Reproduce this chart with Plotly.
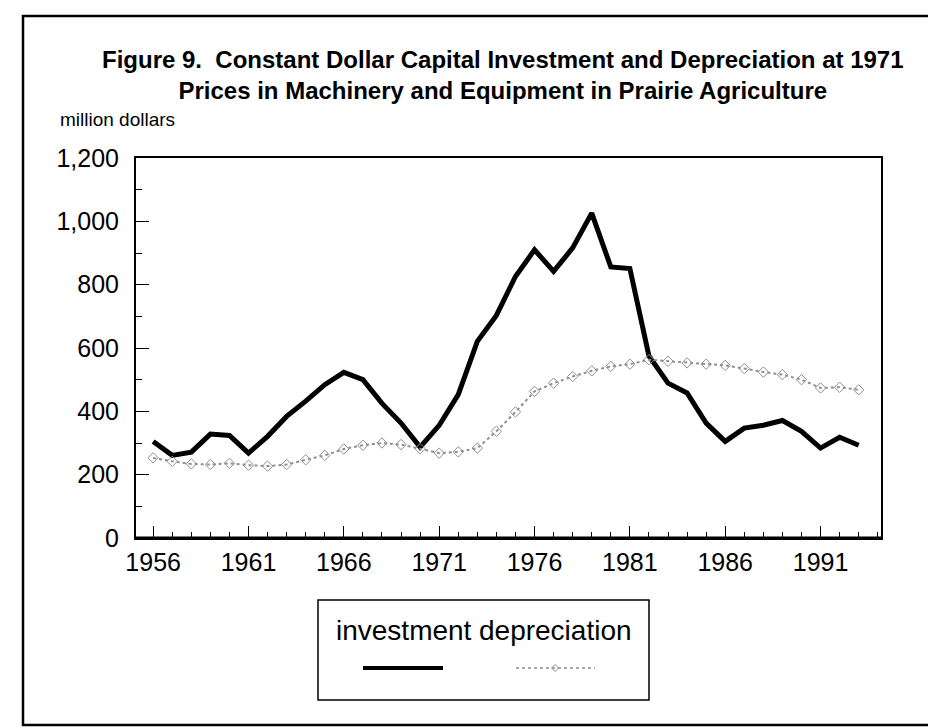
import plotly.graph_objects as go

years = list(range(1956, 1994))
investment = [305, 261, 271, 328, 324, 268, 321, 384, 432, 484, 523, 500,
              425, 363, 287, 356, 453, 621, 703, 826, 910, 842, 916, 1026,
              856, 851, 575, 489, 458, 363, 305, 347, 356, 371, 337, 284,
              318, 293]
depreciation = [253, 242, 234, 232, 236, 230, 227, 232, 247, 261, 281, 293,
                300, 295, 282, 268, 272, 284, 337, 398, 463, 489, 510, 528,
                542, 549, 563, 558, 553, 549, 545, 535, 524, 516, 500, 474,
                476, 468]
x_tickvals = [1956, 1961, 1966, 1971, 1976, 1981, 1986, 1991]
y_tickvals = [0, 200, 400, 600, 800, 1000, 1200]

W, H = 936, 728
L, R, T, B = 128, 873, 150, 530
FONT = "Liberation Sans, Arial, Helvetica, sans-serif"
GRAY = "#8f8f8f"


def px(x):
    return (x - L) / (R - L)


def py(y):
    return (B - y) / (B - T)


fig = go.Figure()
fig.add_trace(go.Scatter(
    x=years, y=investment, name="investment", mode="lines",
    line=dict(color="black", width=5), showlegend=False))
fig.add_trace(go.Scatter(
    x=years, y=depreciation, name="depreciation", mode="lines+markers",
    line=dict(color=GRAY, width=2, dash="dot"),
    marker=dict(symbol="diamond-open", size=8, color=GRAY,
                line=dict(width=1, color=GRAY)),
    showlegend=False))

shapes = [
    # outer frame
    dict(type="rect", xref="paper", yref="paper", x0=px(15), x1=px(930),
         y0=py(717), y1=py(8), line=dict(color="black", width=2.5)),
    # legend box
    dict(type="rect", xref="paper", yref="paper", x0=px(310), x1=px(641),
         y0=py(692), y1=py(592), line=dict(color="black", width=1.5)),
    # legend samples
    dict(type="line", xref="paper", yref="paper", x0=px(355), x1=px(435),
         y0=py(660), y1=py(660), line=dict(color="black", width=4)),
    dict(type="line", xref="paper", yref="paper", x0=px(508), x1=px(587),
         y0=py(660), y1=py(660), line=dict(color=GRAY, width=1.5, dash="dot")),
    dict(type="path", xref="paper", yref="paper",
         path=f"M {px(543.5)} {py(660)} L {px(547)} {py(656.5)} L {px(550.5)} {py(660)} L {px(547)} {py(663.5)} Z",
         line=dict(color=GRAY, width=1)),
    # thicker bottom axis
    dict(type="line", xref="paper", yref="paper", x0=0, x1=1, y0=0, y1=0,
         line=dict(color="black", width=3)),
]

annotations = [
    dict(xref="paper", yref="paper", x=px(495), y=py(67), xanchor="center",
         yanchor="middle", showarrow=False, align="center",
         text="<b>Figure 9.  Constant Dollar Capital Investment and Depreciation at 1971</b><br>"
              "<b>Prices in Machinery and Equipment in Prairie Agriculture</b>",
         font=dict(family=FONT, size=24, color="black")),
    dict(xref="paper", yref="paper", x=px(50), y=py(112), xanchor="left",
         yanchor="middle", showarrow=False, text="million dollars",
         font=dict(family=FONT, size=19, color="black")),
    dict(xref="paper", yref="paper", x=px(396), y=py(622), xanchor="center",
         yanchor="middle", showarrow=False, text="investment",
         font=dict(family=FONT, size=28, color="black")),
    dict(xref="paper", yref="paper", x=px(547), y=py(622), xanchor="center",
         yanchor="middle", showarrow=False, text="depreciation",
         font=dict(family=FONT, size=28, color="black")),
]

fig.update_layout(
    width=W, height=H,
    margin=dict(l=L, r=W - R, t=T, b=H - B, pad=0),
    paper_bgcolor="white", plot_bgcolor="white",
    font=dict(family=FONT, color="black"),
    showlegend=False,
    shapes=shapes, annotations=annotations,
    xaxis=dict(range=[1955.1, 1994.17], tickvals=x_tickvals,
               ticks="inside", ticklen=12, tickwidth=1, tickcolor="black",
               minor=dict(dtick=1, tick0=1956, ticks="inside", ticklen=6,
                          tickwidth=1, tickcolor="black"),
               showgrid=False, zeroline=False, showline=True, mirror=True,
               linecolor="black", linewidth=2,
               tickfont=dict(family=FONT, size=25, color="black"),
               ticklabelstandoff=1),
    yaxis=dict(range=[0, 1200], tickvals=y_tickvals, tickformat=",d",
               ticks="inside", ticklen=13, tickwidth=1, tickcolor="black",
               minor=dict(dtick=100, ticks="inside", ticklen=6, tickwidth=1,
                          tickcolor="black"),
               showgrid=False, zeroline=False, showline=True, mirror=True,
               linecolor="black", linewidth=2,
               tickfont=dict(family=FONT, size=25, color="black"),
               ticklabelstandoff=10),
)

fig.write_html("out.html")
